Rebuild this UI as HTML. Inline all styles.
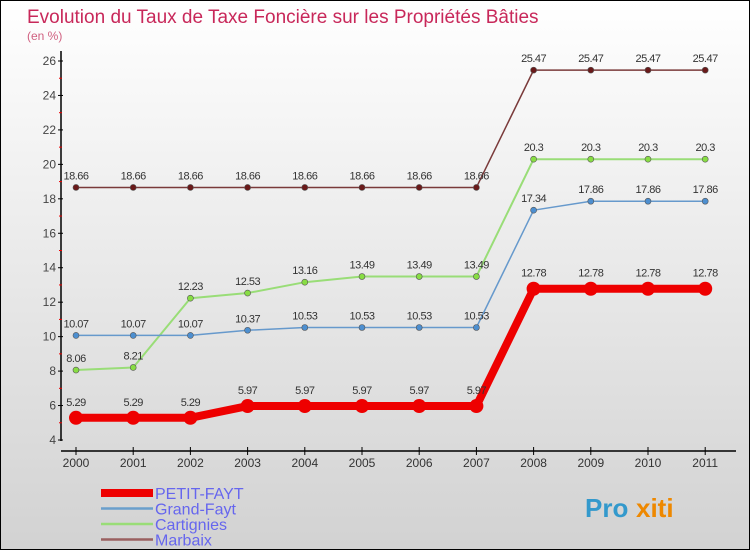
<!DOCTYPE html>
<html><head><meta charset="utf-8"><style>
body{margin:0}
#c{width:748px;height:548px;border:1px solid #000;background:linear-gradient(#fff,#d2d2d2);position:relative;font-family:"Liberation Sans",sans-serif;overflow:hidden}
</style></head><body>
<div id="c">
<svg id="s" width="748" height="548">
<text x="26" y="22" font-size="19" fill="#c8285a">Evolution du Taux de Taxe Foncière sur les Propriétés Bâties</text>
<text x="26" y="39" font-size="12" fill="#d06080">(en %)</text>
<g id="g"></g>
</svg>
</div>
<script>
const years=["2000","2001","2002","2003","2004","2005","2006","2007","2008","2009","2010","2011"];
const petit=[5.29,5.29,5.29,5.97,5.97,5.97,5.97,5.97,12.78,12.78,12.78,12.78];
const grand=[10.07,10.07,10.07,10.37,10.53,10.53,10.53,10.53,17.34,17.86,17.86,17.86];
const cart=[8.06,8.21,12.23,12.53,13.16,13.49,13.49,13.49,20.3,20.3,20.3,20.3];
const marb=[18.66,18.66,18.66,18.66,18.66,18.66,18.66,18.66,25.47,25.47,25.47,25.47];
const yTicks=[4,6,8,10,12,14,16,18,20,22,24,26];
const NS="http://www.w3.org/2000/svg",g=document.getElementById('g');
const X=i=>75+i*57.2, Y=v=>439-(v-4)*(379/22);
function mk(t,a,p){const e=document.createElementNS(NS,t);for(const k in a)e.setAttribute(k,a[k]);(p||g).appendChild(e);return e;}
let e;
e=mk('line',{x1:60,y1:50,x2:60,y2:440,stroke:'#000','stroke-width':1.5});


e=mk('line',{x1:60,y1:450,x2:735,y2:450,stroke:'#000','stroke-width':1.5});


yTicks.forEach(v=>{
 mk('line',{x1:57,x2:62,y1:Y(v),y2:Y(v),stroke:'#000'});
 if(v<26)mk('line',{x1:58,x2:61,y1:Y(v+1),y2:Y(v+1),stroke:'#e00'});
 e=mk('text',{x:55,y:Y(v)+4,'text-anchor':'end','font-size':12,fill:'#444'});e.textContent=v;
 
 
});
years.forEach((yr,i)=>{
 mk('line',{x1:X(i),x2:X(i),y1:446,y2:454,stroke:'#000'});
 e=mk('text',{x:X(i),y:466,'text-anchor':'middle','font-size':12,fill:'#333'});e.textContent=yr;
 
 
});
function series(d,col,w,r,dot,name){
 e=mk('polyline',{points:d.map((v,i)=>X(i)+','+Y(v)).join(' '),fill:'none',stroke:col,'stroke-width':w,'stroke-linejoin':'round'});
 
 
 d.forEach((v,i)=>{
  e=mk('circle',{cx:X(i),cy:Y(v),r:r,fill:dot,stroke:'#555','stroke-width':r>5?0:0.6});
  
  
  e=mk('text',{x:X(i),y:Y(v)-(r>5?12:8),'text-anchor':'middle','font-size':11,fill:'#333','letter-spacing':'-0.5'});e.textContent=v;
  
  
 });
}
series(marb,'#7a3a3a',1.5,3,'#6a1a1a','marbaix');
series(cart,'#99dd77',2,3,'#88dd44','cartignies');
series(grand,'#6699cc',1.5,3,'#4d8fd0','grand-fayt');
series(petit,'#ee0000',8,7,'#ee0000','petit-fayt');
const leg=[['PETIT-FAYT','#ee0000',8],['Grand-Fayt','#6a9fcc',2.5],['Cartignies','#99dd77',2.5],['Marbaix','#9a6060',2.5]];
leg.forEach((l,i)=>{
 const y=492+i*15.5;
 e=mk('line',{x1:100,x2:152,y1:y,y2:y,stroke:l[1],'stroke-width':l[2]});
 
 
 e=mk('text',{x:154,y:y+6,'font-size':16,fill:'#6666ee'});e.textContent=l[0];
 
 
});
e=mk('text',{x:584,y:516,'font-size':26,'font-weight':'bold',fill:'#3399cc'});e.textContent='Pro';


e=mk('text',{x:635,y:516,'font-size':26,'font-weight':'bold',fill:'#ee8800'});e.textContent='xiti';


</script>
</body></html>
